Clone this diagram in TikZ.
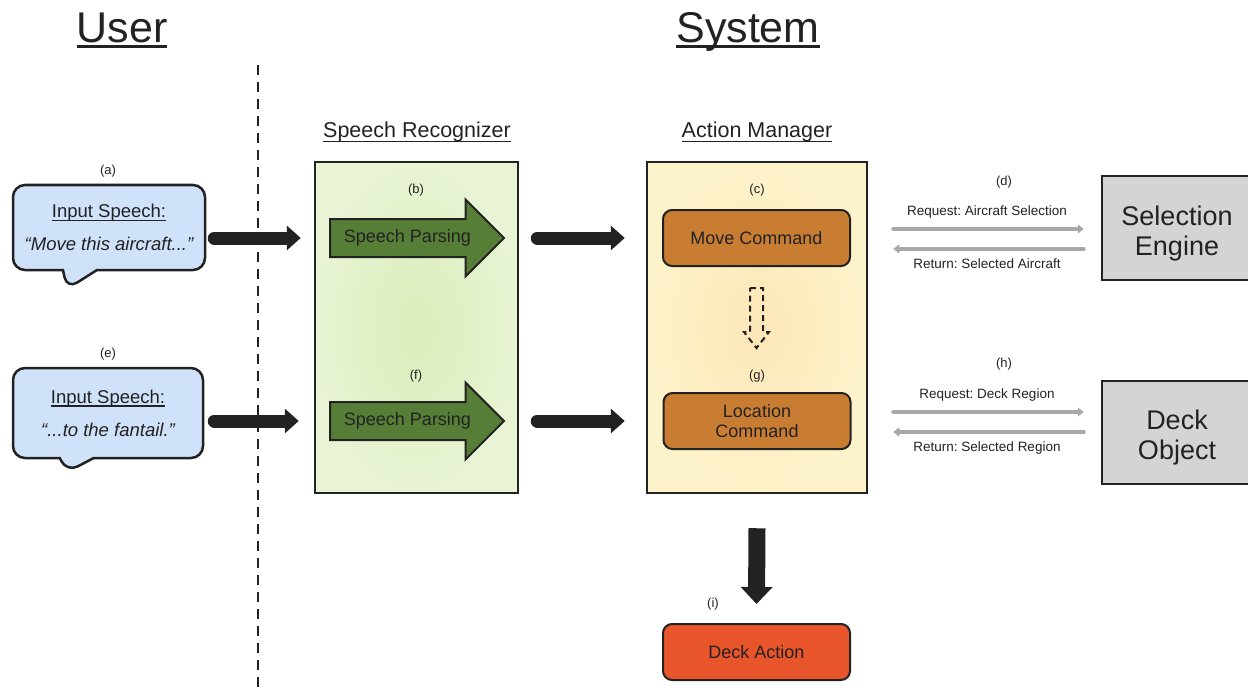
\documentclass[tikz,border=0pt]{standalone}
\usepackage{fontspec}
\setmainfont{Liberation Sans}
\usetikzlibrary{shapes.arrows,shapes.callouts,arrows.meta,calc}
\definecolor{ink}{HTML}{222222}
\definecolor{bubblec}{HTML}{D0E2FA}
\definecolor{greenin}{HTML}{DAEDBA}
\definecolor{greenout}{HTML}{E8F4D4}
\definecolor{yellowin}{HTML}{FCE7B8}
\definecolor{yellowout}{HTML}{FDF3CA}
\definecolor{parsec}{HTML}{567E36}
\definecolor{cmdc}{HTML}{C97D33}
\definecolor{actc}{HTML}{E8552B}
\definecolor{grayboxc}{HTML}{D4D4D4}
\definecolor{grayarr}{HTML}{A8A8A8}
\frenchspacing
\newcommand\ulx[3]{\leavevmode\setbox0\hbox{#3}\rlap{\raisebox{-#1}{\rule{\wd0}{#2}}}\box0}
\tikzset{
  lbl/.style={font=\fontsize{13}{15}\selectfont, text=ink, inner sep=0pt},
  small/.style={font=\fontsize{13.5}{15}\selectfont, text=ink, inner sep=0pt},
  title/.style={font=\fontsize{43}{50}\selectfont, text=ink, inner sep=0pt, anchor=base},
  subtitle/.style={font=\fontsize{21.5}{25}\selectfont, text=ink, inner sep=0pt, anchor=base},
  bubble/.style={rectangle callout, draw=ink, line width=2.5pt, fill=bubblec, rounded corners=12pt,
    callout pointer width=34pt, align=center, text=ink, font=\fontsize{18.5}{33}\selectfont},
  bigbox/.style={draw=ink, line width=2.5pt, minimum height=331pt},
  parse/.style={single arrow, draw=ink, line width=2pt, fill=parsec, minimum height=174pt,
    single arrow head extend=19.5pt, text height=13pt, text depth=4pt, inner ysep=9.5pt,
    inner xsep=4pt, font=\fontsize{18}{20}\selectfont, text=ink, anchor=tail},
  cmd/.style={draw=ink, line width=2pt, rounded corners=9pt, fill=cmdc, minimum width=187pt,
    minimum height=56pt, font=\fontsize{18}{20}\selectfont, align=center, text=ink, inner sep=2pt},
  graybox/.style={draw=ink, line width=2.5pt, fill=grayboxc, minimum width=150pt, align=center,
    font=\fontsize{27}{30}\selectfont, text=ink},
  blk/.style={line width=13pt, draw=ink, line cap=round, -{Triangle[length=14pt,width=24pt]}},
  gar/.style={line width=4pt, draw=grayarr, line cap=round, -{Triangle[length=6pt,width=9pt]}},
}
\begin{document}
\begin{tikzpicture}[x=1pt,y=-1pt]
\useasboundingbox (0,0) rectangle (1248,690);
% titles
\node[title] (tu) at (122,43) {\ulx{5pt}{3pt}{User}};
\node[title] (ts) at (748,43) {\ulx{5pt}{3pt}{System}};
% divider
\draw[ink, line width=2.5pt, dash pattern=on 10pt off 7pt] (258,65) -- (258,690);
% bubbles
\node[bubble, minimum width=192pt, minimum height=85pt, callout absolute pointer={(67,289)}] (ba) at (109,227.5)
  {\ulx{3.5pt}{1.3pt}{Input Speech:}\\\itshape “Move this aircraft...”};
\node[lbl] (la) at (108,171) {(a)};
\node[bubble, minimum width=190pt, minimum height=90pt, callout absolute pointer={(67,472)}] (be) at (108,413)
  {\ulx{3.5pt}{1.3pt}{Input Speech:}\\\itshape “...to the fantail.”};
\node[lbl] (le) at (108,354) {(e)};
% speech recognizer
\node[subtitle] (tsr) at (417,138) {\ulx{4.5pt}{1.5pt}{Speech Recognizer}};
\node[bigbox, minimum width=203pt, shading=radial, inner color=greenin, outer color=greenout] (sr) at (416.5,327.5) {};
\node[lbl] (lb) at (416,190) {(b)};
\node[parse] (pb) at (329,238) {Speech Parsing};
\node[lbl] (lf) at (416,376) {(f)};
\node[parse] (pf) at (329,421) {Speech Parsing};
% action manager
\node[subtitle] (tam) at (757,138) {\ulx{4.5pt}{1.5pt}{Action Manager}};
\node[bigbox, minimum width=220pt, shading=radial, inner color=yellowin, outer color=yellowout] (am) at (757,327.5) {};
\node[lbl] (lc) at (757,190) {(c)};
\node[cmd] (mc) at (756.5,238) {Move Command};
\node[lbl] (lg) at (757,376) {(g)};
\node[cmd] (lc2) at (757,421) {Location\\Command};
\draw[ink, line width=2pt, dash pattern=on 6pt off 4pt]
  (750,288) -- (763,288) -- (763,332) -- (769,332) -- (756.5,348) -- (744,332) -- (750,332) -- cycle;
% deck action
\node[cmd, fill=actc] (da) at (756.5,652) {Deck Action};
\node[lbl] (li) at (713,604) {(i)};
% external boxes
\node[graybox, minimum height=104pt] (se) at (1177,228) {\rule{0pt}{31pt}Selection\\Engine};
\node[graybox, minimum height=103pt] (do) at (1177,432.5) {\rule{0pt}{29pt}Deck\\Object};
\node[lbl] (ld) at (1004,182) {(d)};
\node[small] (rq1) at (987,212) {Request: Aircraft Selection};
\node[small] (rt1) at (987,264) {Return: Selected Aircraft};
\node[lbl] (lh) at (1004,364) {(h)};
\node[small] (rq2) at (987,395) {Request: Deck Region};
\node[small] (rt2) at (987,448) {Return: Selected Region};
% connectors
\draw[blk] ($(ba.east |- pb.tail)+(8,0)$) -- ($(sr.west |- pb.tail)+(-13,0)$);
\draw[blk] ($(be.east |- pf.tail)+(10,0)$) -- ($(sr.west |- pf.tail)+(-15,0)$);
\draw[blk] ($(sr.east |- pb.tail)+(18,0)$) -- ($(am.west |- pb.tail)+(-21,0)$);
\draw[blk] ($(sr.east |- pf.tail)+(18,0)$) -- ($(am.west |- pf.tail)+(-21,0)$);
\draw[line width=17pt, draw=ink, -{Triangle[length=17pt,width=31pt]}] ($(am.south)+(0,34)$) -- ($(da.north)+(0,-19)$);
\draw[gar] ($(am.east |- mc)+(25,-9)$) -- ($(se.west |- mc)+(-17,-9)$);
\draw[gar] ($(se.west |- mc)+(-17,11)$) -- ($(am.east |- mc)+(25,11)$);
\draw[gar] ($(am.east |- lc2)+(25,-9)$) -- ($(do.west |- lc2)+(-17,-9)$);
\draw[gar] ($(do.west |- lc2)+(-17,11)$) -- ($(am.east |- lc2)+(25,11)$);
\end{tikzpicture}
\end{document}
